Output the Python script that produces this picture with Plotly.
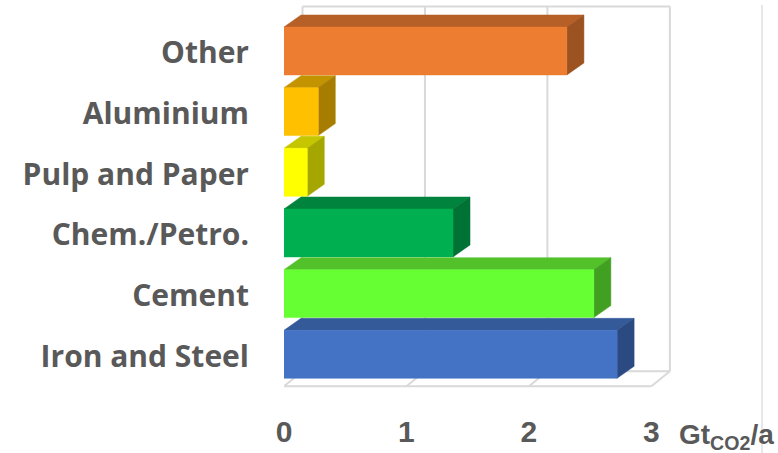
import plotly.graph_objects as go

# Industrial CO2 emissions by sector, Gt CO2 per year
categories = ["Iron and Steel", "Cement", "Chem./Petro.", "Pulp and Paper", "Aluminium", "Other"]
values = [2.72, 2.53, 1.38, 0.19, 0.28, 2.31]
front_colors = ["#4472C4", "#66FF33", "#00B050", "#FFFF00", "#FFC000", "#ED7D31"]
top_colors = ["#345A9A", "#52C12A", "#00833C", "#C6C600", "#C49300", "#B65F26"]
side_colors = ["#2B4A82", "#41A021", "#007234", "#A6A600", "#A67D00", "#9C5221"]
x_ticks = [0, 1, 2, 3]

# pseudo-3D geometry (in axis units)
BAR_H = 0.79        # front face thickness
DX, DY = 0.139, 0.198   # bar depth offset
FLOOR_FRONT, FLOOR_BACK, WALL_TOP = -0.527, -0.28, 5.733
FDX = 0.151         # floor / wall depth offset
GRID = "#D9D9D9"
TEXT = "#595959"

fig = go.Figure()

def poly(xs, ys, color):
    fig.add_trace(go.Scatter(
        x=xs + [xs[0]], y=ys + [ys[0]], mode="lines", fill="toself",
        fillcolor=color, line=dict(color=color, width=0.5),
        hoverinfo="skip", showlegend=False))

def seg(x0, y0, x1, y1):
    fig.add_trace(go.Scatter(
        x=[x0, x1], y=[y0, y1], mode="lines",
        line=dict(color=GRID, width=2), hoverinfo="skip", showlegend=False))

# floor and back wall
xmax = x_ticks[-1]
seg(0, FLOOR_FRONT, xmax, FLOOR_FRONT)
seg(FDX, FLOOR_BACK, xmax + FDX, FLOOR_BACK)
seg(FDX, WALL_TOP, xmax + FDX, WALL_TOP)
for t in x_ticks:
    seg(t, FLOOR_FRONT, t + FDX, FLOOR_BACK)
    seg(t + FDX, FLOOR_BACK, t + FDX, WALL_TOP)

# bars: back to front, top to bottom
for k in range(len(categories) - 1, -1, -1):
    v = values[k]
    lo, hi = k - BAR_H / 2, k + BAR_H / 2
    poly([0, v, v + DX, DX], [hi, hi, hi + DY, hi + DY], top_colors[k])
    poly([v, v, v + DX, v + DX], [lo, hi, hi + DY, lo + DY], side_colors[k])
    poly([0, v, v, 0], [lo, lo, hi, hi], front_colors[k])

fig.update_layout(
    width=778, height=453,
    margin=dict(l=284, r=96, t=0, b=38),
    paper_bgcolor="white", plot_bgcolor="white",
    xaxis=dict(range=[0, 3.25], tickvals=x_ticks, ticktext=[str(t) for t in x_ticks],
               showgrid=False, zeroline=False, showline=False, ticks="",
               ticklabelstandoff=-4,
               tickfont=dict(family="Liberation Sans", size=30, color=TEXT, weight="bold")),
    yaxis=dict(range=[-1.0, 5.84], tickvals=list(range(len(categories))), ticktext=categories,
               showgrid=False, zeroline=False, showline=False, ticks="",
               ticklabelstandoff=34, ticklabelshift=2,
               tickfont=dict(family="Open Sans", size=30, color=TEXT, weight="bold")),
    showlegend=False,
)

fig.add_annotation(
    text="Gt<sub>CO2</sub>/a", xref="paper", yref="paper",
    x=(677 - 284) / 398, y=-(436 - 415) / 415, xanchor="left", yanchor="middle",
    showarrow=False, font=dict(family="Liberation Sans", size=28, color=TEXT, weight="bold"))

fig.add_shape(type="line", xref="paper", yref="paper",
              x0=(762 - 284) / 398, x1=(762 - 284) / 398,
              y0=-(453 - 415) / 415, y1=1 - 5 / 415,
              line=dict(color="#D0D0D0", width=1))

fig.write_html("out.html")
